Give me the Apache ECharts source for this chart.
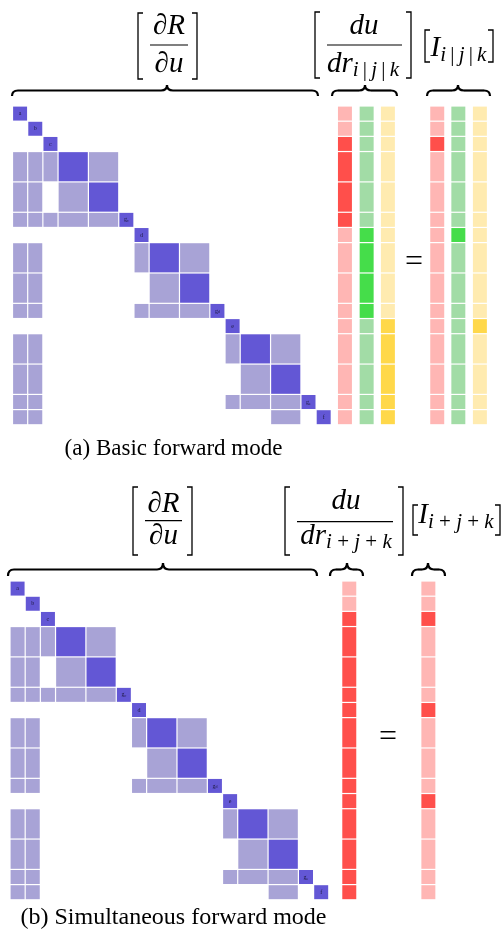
<!DOCTYPE html>
<html>
<head>
<meta charset="utf-8">
<script src="https://cdn.jsdelivr.net/npm/echarts@6/dist/echarts.min.js"></script>
<style>
  html, body { margin: 0; padding: 0; background: #fff; }
  #chart { width: 501px; height: 932px; }
</style>
</head>
<body>
<div id="chart"></div>
<script>
// Block structure of the state vector (rows and columns of dR/du)
const blockNames  = ['a', 'b', 'c', 'X1', 'X2', 'gc', 'd', 'Y1', 'Y2', 'gd', 'e', 'Z1', 'Z2', 'ge', 'f'];
const blockSizes  = [1, 1, 1, 2, 2, 1, 1, 2, 2, 1, 1, 2, 2, 1, 1];
const blockLabels = ['a', 'b', 'c', '', '', 'g_c', 'd', '', '', 'g_d', 'e', '', '', 'g_e', 'f'];

// Nonzero column blocks of each row block of the Jacobian (diagonal blocks are the dark ones)
const jacobianRows = [
  [0], [1], [2],
  [0, 1, 2, 3, 4], [0, 1, 3, 4], [0, 1, 2, 3, 4, 5],
  [6], [0, 1, 6, 7, 8], [0, 1, 7, 8], [0, 1, 6, 7, 8, 9],
  [10], [0, 1, 10, 11, 12], [0, 1, 11, 12], [0, 1, 10, 11, 12, 13],
  [0, 1, 12, 14]
];

// Basic forward mode: one solve per seed i, j, k (1 = nonzero block)
const duDrI = [0, 0, 1, 1, 1, 1, 0, 0, 0, 0, 0, 0, 0, 0, 0];
const duDrJ = [0, 0, 0, 0, 0, 0, 1, 1, 1, 1, 0, 0, 0, 0, 0];
const duDrK = [0, 0, 0, 0, 0, 0, 0, 0, 0, 0, 1, 1, 1, 1, 1];
const seedI = [0, 0, 1, 0, 0, 0, 0, 0, 0, 0, 0, 0, 0, 0, 0];
const seedJ = [0, 0, 0, 0, 0, 0, 1, 0, 0, 0, 0, 0, 0, 0, 0];
const seedK = [0, 0, 0, 0, 0, 0, 0, 0, 0, 0, 1, 0, 0, 0, 0];

// Simultaneous forward mode: the three seeds combined in one solve
const duDrSum = [0, 0, 1, 1, 1, 1, 1, 1, 1, 1, 1, 1, 1, 1, 1];
const seedSum = [0, 0, 1, 0, 0, 0, 1, 0, 0, 0, 1, 0, 0, 0, 0];

// ---- layout & style ----
const U = 15.18;            // pixels per unit cell
const X_UNITS = 32;
const offsets = [];
blockSizes.reduce((acc, s, i) => { offsets[i] = acc; return acc + s; }, 0);
const TOTAL = blockSizes.reduce((a, b) => a + b, 0);

const COLORS = {
  diag: '#6357d5', off: '#a8a3d6',
  red: ['#ffb6b4', '#ff4f4b'],
  green: ['#a2dca6', '#45dd4a'],
  yellow: ['#ffebb0', '#ffd84a']
};
const SERIF = '"Liberation Serif", "DejaVu Serif", serif';

function matrixCells() {
  const cells = [];
  jacobianRows.forEach((cols, r) => {
    cols.forEach(c => {
      cells.push({
        value: [offsets[c], offsets[r], offsets[c] + blockSizes[c], offsets[r] + blockSizes[r]],
        color: r === c ? COLORS.diag : COLORS.off,
        label: r === c ? blockLabels[r] : ''
      });
    });
  });
  return cells;
}

function vectorCells(values, col, palette) {
  return values.map((v, r) => ({
    value: [col, offsets[r], col + 1, offsets[r] + blockSizes[r]],
    color: palette[v],
    label: ''
  }));
}

function labelText(s) {
  if (s.indexOf('_') > 0) {
    const [base, sub] = s.split('_');
    return '{b|' + base + '}{s|' + sub + '}';
  }
  return '{b|' + s + '}';
}

function cellSeries(cells, gridIndex) {
  return {
    type: 'custom',
    xAxisIndex: gridIndex,
    yAxisIndex: gridIndex,
    data: cells.map(c => c.value),
    silent: true,
    renderItem(params, api) {
      const meta = cells[params.dataIndex];
      const p0 = api.coord([api.value(0), api.value(1)]);
      const p1 = api.coord([api.value(2), api.value(3)]);
      const g = 0.6;
      const children = [{
        type: 'rect',
        shape: { x: p0[0] + g, y: p0[1] + g, width: p1[0] - p0[0] - 2 * g, height: p1[1] - p0[1] - 2 * g },
        style: { fill: meta.color }
      }];
      if (meta.label) {
        children.push({
          type: 'text',
          x: (p0[0] + p1[0]) / 2,
          y: (p0[1] + p1[1]) / 2,
          style: {
            text: labelText(meta.label),
            align: 'center', verticalAlign: 'middle',
            rich: {
              b: { fontFamily: SERIF, fontSize: 6, fill: '#1e1a40' },
              s: { fontFamily: SERIF, fontSize: 4, fill: '#1e1a40', padding: [3, 0, 0, 0] }
            }
          }
        });
      }
      return { type: 'group', children };
    }
  };
}

const panels = [
  { left: 12.5, top: 106, dudr: [21.4, 22.83, 24.23], seed: [27.48, 28.87, 30.29],
    dudrVals: [duDrI, duDrJ, duDrK], seedVals: [seedI, seedJ, seedK],
    palettes: [COLORS.red, COLORS.green, COLORS.yellow] },
  { left: 10, top: 581, dudr: [21.85], seed: [27.06],
    dudrVals: [duDrSum], seedVals: [seedSum], palettes: [COLORS.red] }
];

const grids = [], xAxes = [], yAxes = [], series = [];
panels.forEach((p, gi) => {
  grids.push({ left: p.left, top: p.top, width: X_UNITS * U, height: TOTAL * U, containLabel: false });
  xAxes.push({ gridIndex: gi, type: 'value', min: 0, max: X_UNITS, show: false });
  yAxes.push({ gridIndex: gi, type: 'value', min: 0, max: TOTAL, inverse: true, show: false });
  let cells = matrixCells();
  p.dudr.forEach((x, k) => { cells = cells.concat(vectorCells(p.dudrVals[k], x, p.palettes[k])); });
  p.seed.forEach((x, k) => { cells = cells.concat(vectorCells(p.seedVals[k], x, p.palettes[k])); });
  series.push(cellSeries(cells, gi));
});

// ---- annotation helpers ----
const INK = { stroke: '#000', fill: null };
const measureCtx = document.createElement('canvas').getContext('2d');
function textWidth(text, font) { measureCtx.font = font; return measureCtx.measureText(text).width; }

function brace(x0, x1, xt, yt, yb) {
  const ym = (yt + yb) / 2, r = 6;
  const st = Object.assign({ lineWidth: 2.2 }, INK);
  const q = (a, b, c, d, cx, cy) => ({ type: 'bezierCurve', shape: { x1: a, y1: b, x2: c, y2: d, cpx1: cx, cpy1: cy }, style: st });
  const l = (a, b, c, d) => ({ type: 'line', shape: { x1: a, y1: b, x2: c, y2: d }, style: st });
  return [
    q(x0, yb, x0 + r, ym, x0, ym),
    l(x0 + r, ym, xt - r, ym),
    q(xt - r, ym, xt, yt, xt, ym),
    q(xt, yt, xt + r, ym, xt, ym),
    l(xt + r, ym, x1 - r, ym),
    q(x1 - r, ym, x1, yb, x1, ym)
  ];
}
function bracket(x, y0, y1, side) {
  const w = 5;
  const pts = side === 'l'
    ? [[x + w, y0], [x, y0], [x, y1], [x + w, y1]]
    : [[x, y0], [x + w, y0], [x + w, y1], [x, y1]];
  return { type: 'polyline', shape: { points: pts }, style: Object.assign({ lineWidth: 1.3 }, INK) };
}
function hline(x0, x1, y) {
  return { type: 'line', shape: { x1: x0, y1: y, x2: x1, y2: y }, style: { stroke: '#000', lineWidth: 1.2 } };
}
const MATH = 29, SUB = 21;
const mathFont = `italic ${MATH}px ${SERIF}`;
function mtext(text, x, y, align) {
  return { type: 'text', x, y, style: { text, font: mathFont, fill: '#000',
    align: align || 'center', verticalAlign: 'middle' } };
}
// symbol with a subscript, centred as a whole on cx
function withSub(base, parts, cx, yBase, ySub) {
  const subFonts = { it: `italic ${SUB}px ${SERIF}`, rm: `${SUB}px ${SERIF}` };
  const wBase = textWidth(base, mathFont);
  let wSub = 0;
  parts.forEach(([t, it]) => { wSub += textWidth(t, it ? subFonts.it : subFonts.rm); });
  const x0 = cx - (wBase + wSub) / 2;
  const els = [mtext(base, x0, yBase, 'left')];
  let x = x0 + wBase;
  parts.forEach(([t, it]) => {
    const f = it ? subFonts.it : subFonts.rm;
    els.push({ type: 'text', x, y: ySub, style: { text: t, font: f, fill: '#000', align: 'left', verticalAlign: 'middle' } });
    x += textWidth(t, f);
  });
  return els;
}
function rtext(text, x, y, size) {
  return { type: 'text', x, y, style: { text, font: `${size}px ${SERIF}`, fill: '#000', align: 'center', verticalAlign: 'middle' } };
}

const subBasic = [['i', 1], ['\u2009|\u2009', 0], ['j', 1], ['\u2009|\u2009', 0], ['k', 1]];
const subSum = [['i', 1], [' + ', 0], ['j', 1], [' + ', 0], ['k', 1]];

const graphics = [].concat(
  // (a) header
  bracket(138, 13, 79, 'l'), bracket(192, 13, 79, 'r'),
  mtext('∂R', 169, 26), hline(150, 188, 45), mtext('∂u', 169, 64),
  brace(12, 318, 167, 85, 96),
  bracket(315, 12, 78, 'l'), bracket(406, 12, 78, 'r'),
  mtext('du', 364, 26), hline(327, 402, 45),
  withSub('dr', subBasic, 363, 64, 70),
  bracket(425, 30, 62, 'l'), bracket(488, 30, 62, 'r'),
  withSub('I', subBasic, 458.5, 48, 55),
  brace(332, 397, 365, 85, 96), brace(427, 490, 458, 85, 96),
  rtext('=', 414, 263, 32),
  rtext('(a) Basic forward mode', 173.5, 449, 23),
  // (b) header
  bracket(133, 487, 555, 'l'), bracket(187, 487, 555, 'r'),
  mtext('∂R', 163.5, 504), hline(145, 182, 520.7), mtext('∂u', 163.5, 536),
  brace(8, 317, 163, 563, 576),
  bracket(285, 487, 555, 'l'), bracket(398, 487, 555, 'r'),
  mtext('du', 346, 501), hline(297, 393, 521.7),
  withSub('dr', subSum, 346, 536, 542),
  bracket(413, 505, 535, 'l'), bracket(495, 505, 535, 'r'),
  withSub('I', subSum, 456, 515, 522),
  brace(330, 363, 347, 563, 576), brace(412, 445, 428, 563, 576),
  rtext('=', 388, 738, 32),
  rtext('(b) Simultaneous forward mode', 173.5, 918, 24)
);

const chart = echarts.init(document.getElementById('chart'), null, { renderer: 'canvas' });
chart.setOption({
  animation: false,
  backgroundColor: '#fff',
  grid: grids,
  xAxis: xAxes,
  yAxis: yAxes,
  series,
  graphic: { elements: graphics }
});
</script>
</body>
</html>
